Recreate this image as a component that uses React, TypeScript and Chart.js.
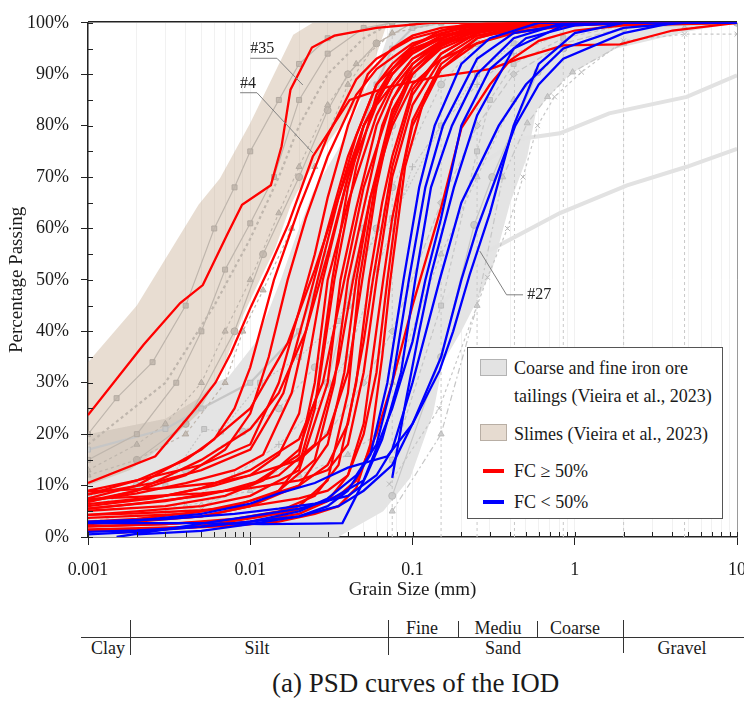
import React, { useEffect, useRef } from 'react';
import { Chart, registerables } from 'chart.js';

Chart.register(...registerables);

const FONT = '"Liberation Serif", "Times New Roman", serif';

type Pt = [number, number];

// ---- axes ----
const xMajorTicks = [0.001, 0.01, 0.1, 1, 10];
const xTickLabels = ['0.001', '0.01', '0.1', '1', '10'];
const xDecades = [0.001, 0.01, 0.1, 1];
const xMultipliers = [1, 2, 3, 4, 5, 6, 7, 8, 9];
const xTickValues = xDecades
  .flatMap((d) => xMultipliers.map((m) => +(d * m).toPrecision(3)))
  .concat([10]);
const yTickValues = [0, 5, 10, 15, 20, 25, 30, 35, 40, 45, 50, 55, 60, 65, 70, 75, 80, 85, 90, 95, 100];
const sieveSizes = [0.075, 0.15, 0.25, 0.425, 0.85, 2, 4.75];

// ---- shaded envelopes (Vieira et al., 2023) ----
const tailingsBand: Pt[] = [
  [0.001, 0], [0.001, 20], [0.003, 23], [0.0048, 27], [0.006, 30], [0.0073, 31], [0.0107, 37.7],
  [0.0128, 43.5], [0.0154, 50], [0.0189, 58], [0.0243, 67], [0.0357, 76], [0.049, 85.6],
  [0.063, 93], [0.075, 100], [10, 100], [5, 98.3], [1.8, 95], [0.93, 90], [0.58, 83], [0.51, 74],
  [0.4, 65], [0.31, 52], [0.25, 46], [0.2, 40], [0.154, 34], [0.134, 24], [0.097, 11.5],
  [0.066, 5], [0.041, 1.3], [0.035, 0], [0.001, 0],
];
const slimesBand: Pt[] = [
  [0.001, 10], [0.001, 34], [0.002, 45], [0.0048, 64.6], [0.0065, 69.7], [0.01, 80.5],
  [0.0184, 97.7], [0.0243, 100], [0.07, 100], [0.049, 85.6], [0.027, 74.7], [0.0194, 67],
  [0.0178, 64.6], [0.0142, 56], [0.0117, 50.6], [0.009, 43], [0.0072, 35], [0.006, 30],
  [0.0048, 24], [0.003, 18], [0.0018, 13], [0.001, 10],
];

// ---- background reference curves ----
const tailingsCurves: Pt[][] = [
  [[0.072, 10.3], [0.146, 25], [0.29, 50.5], [0.385, 60], [0.48, 70], [0.59, 80], [0.75, 85.6], [1.1, 90.4], [2, 96.5], [4.75, 97.8], [10, 97.8]],
  [[0.075, 5], [0.15, 20], [0.25, 45], [0.36, 70], [0.51, 80.5], [0.68, 85.6], [0.97, 90.4], [2, 96], [4.75, 99], [10, 100]],
  [[0.075, 8], [0.15, 35], [0.24, 60.7], [0.31, 70], [0.59, 90.4], [0.85, 95], [2, 99], [10, 100]],
  [[0.075, 15], [0.15, 45], [0.25, 75], [0.3, 85], [0.42, 92], [0.85, 97], [2, 99.5], [10, 100]],
  [[0.001, 17], [0.003, 21], [0.005, 25], [0.01, 30], [0.02, 40], [0.03, 55], [0.04, 70], [0.06, 88], [0.075, 95], [0.1, 99], [0.15, 100]],
  [[0.001, 8], [0.002, 10], [0.004, 13], [0.009, 20.5], [0.015, 25], [0.025, 33], [0.04, 45], [0.06, 60], [0.075, 68], [0.15, 88], [0.25, 96], [0.42, 99], [0.85, 100]],
  [[0.001, 6], [0.003, 10], [0.0052, 21], [0.0066, 20.5], [0.0115, 30], [0.02, 35], [0.035, 42], [0.05, 55], [0.075, 62], [0.15, 80], [0.25, 90], [0.42, 96], [1, 100]],
  [[0.002, 3], [0.005, 6], [0.01, 10], [0.02, 15], [0.03, 20], [0.05, 30], [0.075, 40], [0.15, 65], [0.25, 80], [0.42, 90], [0.85, 96], [2, 99], [4.75, 100]],
  [[0.003, 5], [0.008, 12], [0.015, 18], [0.025, 25], [0.04, 35], [0.06, 52], [0.075, 60], [0.1, 72], [0.15, 80], [0.25, 88], [0.42, 94], [0.85, 98], [2, 100]],
  [[0.001, 3], [0.004, 6], [0.01, 9], [0.02, 12], [0.04, 16], [0.06, 20], [0.075, 30], [0.15, 55], [0.25, 70], [0.42, 85], [0.85, 95], [2, 99], [4.75, 100]],
  [[0.03, 30], [0.05, 60], [0.075, 80], [0.1, 90], [0.15, 96], [0.25, 99], [0.42, 100]],
];
const tailingsMarkers = ['crossRot', 'triangle', 'circle', 'rect', 'rect', 'circle', 'rect', 'rectRot', 'cross', 'triangle', 'circle'];
const slimesCurves: Pt[][] = [
  [[0.001, 20], [0.0015, 27], [0.0025, 34], [0.004, 45], [0.006, 60], [0.008, 68], [0.01, 75], [0.015, 85], [0.02, 92], [0.03, 97], [0.075, 100]],
  [[0.001, 13], [0.002, 18], [0.003, 22], [0.005, 30], [0.007, 40], [0.01, 50], [0.015, 63], [0.02, 72], [0.03, 84], [0.045, 92], [0.075, 98], [0.15, 100]],
  [[0.002, 15], [0.004, 22], [0.008, 40], [0.012, 55], [0.02, 70], [0.03, 83], [0.04, 90], [0.06, 96], [0.1, 100]],
  [[0.001, 18], [0.003, 30], [0.006, 45], [0.01, 58], [0.015, 70], [0.02, 80], [0.03, 90], [0.05, 97], [0.075, 100]],
  [[0.001, 15], [0.002, 20], [0.0035, 30], [0.005, 40], [0.007, 52], [0.01, 61], [0.014, 70], [0.02, 85], [0.03, 94], [0.05, 99], [0.075, 100]],
  [[0.001, 12], [0.002, 15], [0.004, 20], [0.007, 30], [0.009, 40], [0.012, 48], [0.018, 60], [0.025, 72], [0.04, 88], [0.06, 96], [0.1, 100]],
];
const slimesMarkers = ['rect', 'triangle', 'circle', false, 'rect', 'triangle'];
const wideCurves: Pt[][] = [
  [[0.25, 72], [0.46, 77.4], [0.81, 78.5], [1.63, 82.4], [4.9, 85.6], [10, 89.8]],
  [[0.15, 45], [0.27, 55], [0.81, 63], [2.1, 68.4], [4.9, 72], [10, 75.5]],
];

// ---- IOD samples, FC >= 50% ----
const redCurves: Pt[][] = [
  [[0.001, 23.7], [0.0022, 37.4], [0.0037, 45.5], [0.0051, 49], [0.0072, 58.8], [0.0089, 64.6], [0.0134, 68.4], [0.0156, 76], [0.0177, 87], [0.024, 95.2], [0.033, 97.5], [0.06, 99], [0.13, 100], [10, 100]],
  [[0.001, 10.5], [0.0026, 15.7], [0.0046, 25], [0.0061, 30], [0.0076, 35.8], [0.0101, 44.8], [0.0128, 51.7], [0.0171, 60.7], [0.0243, 74], [0.041, 85], [0.07, 87.5], [0.14, 89.5], [0.3, 91], [0.45, 93], [0.85, 95.6], [1.9, 95.8], [4, 98.5], [10, 100]],
  [[0.001, 2], [0.003, 2.5], [0.007, 3.2], [0.015, 4.5], [0.025, 6], [0.035, 8], [0.045, 11], [0.06, 20], [0.075, 30], [0.1, 45], [0.15, 64], [0.2, 79.5], [0.3, 88], [0.4, 92.7], [0.6, 96.5], [1, 98.5], [2, 99.5], [10, 100]],
  [[0.001, 8.3], [0.002, 11], [0.004, 15], [0.006, 19], [0.008, 25], [0.01, 33], [0.014, 50], [0.02, 64], [0.03, 78], [0.045, 89], [0.06, 93], [0.1, 97], [0.2, 99.5], [0.4, 100], [10, 100]],
  [[0.001, 7], [0.002, 9], [0.004, 12], [0.007, 17], [0.01, 24], [0.013, 35], [0.017, 50], [0.022, 62], [0.03, 74], [0.045, 86], [0.06, 91], [0.1, 96], [0.2, 99], [0.5, 100], [10, 100]],
  [[0.001, 9], [0.002, 11], [0.005, 14], [0.01, 18], [0.015, 30], [0.02, 44], [0.025, 55], [0.03, 66], [0.04, 80], [0.053, 90], [0.075, 95], [0.1, 97.5], [0.15, 99], [0.3, 100], [10, 100]],
  [[0.001, 8.3], [0.0025, 10.5], [0.005, 13], [0.01, 17], [0.016, 28], [0.022, 44], [0.03, 60], [0.04, 74], [0.06, 88], [0.075, 92], [0.1, 95.5], [0.15, 98], [0.25, 99.5], [0.42, 100], [10, 100]],
  [[0.001, 7], [0.002, 8.5], [0.004, 10.5], [0.008, 13], [0.012, 16], [0.018, 28], [0.026, 50], [0.035, 66], [0.045, 78], [0.06, 88], [0.075, 91], [0.1, 94.5], [0.15, 97.5], [0.25, 99], [0.5, 100], [10, 100]],
  [[0.001, 6.4], [0.003, 8], [0.006, 10], [0.01, 12], [0.015, 16], [0.02, 24], [0.028, 50], [0.04, 70], [0.05, 80], [0.075, 90], [0.1, 94], [0.15, 97], [0.25, 99], [0.42, 100], [10, 100]],
  [[0.001, 5.5], [0.002, 6.5], [0.005, 8], [0.01, 10], [0.02, 16], [0.025, 30], [0.03, 50], [0.04, 65], [0.06, 82], [0.075, 88], [0.1, 93], [0.15, 96.5], [0.25, 98.5], [0.6, 100], [10, 100]],
  [[0.001, 5.1], [0.003, 6], [0.007, 8], [0.012, 11], [0.02, 17], [0.026, 28], [0.033, 50], [0.045, 72], [0.06, 86], [0.075, 91], [0.1, 95], [0.2, 98.5], [0.42, 100], [10, 100]],
  [[0.001, 4.3], [0.002, 5], [0.005, 6], [0.01, 8], [0.02, 13], [0.03, 30], [0.036, 50], [0.045, 64], [0.06, 80], [0.075, 87], [0.1, 92], [0.15, 96], [0.3, 99], [0.85, 100], [10, 100]],
  [[0.001, 3.7], [0.004, 4.5], [0.008, 6], [0.015, 9], [0.025, 15], [0.033, 30], [0.04, 50], [0.05, 64], [0.065, 80], [0.075, 85], [0.1, 91], [0.15, 95.5], [0.25, 98.5], [0.5, 100], [10, 100]],
  [[0.001, 2.9], [0.002, 3.2], [0.005, 4], [0.01, 6], [0.02, 10], [0.03, 18], [0.038, 32], [0.045, 50], [0.055, 66], [0.075, 83], [0.1, 90], [0.15, 95], [0.3, 99], [0.6, 100], [10, 100]],
  [[0.001, 8.9], [0.003, 9.5], [0.006, 10.5], [0.01, 12], [0.02, 15], [0.03, 20], [0.04, 32], [0.049, 50], [0.06, 68], [0.075, 82], [0.1, 91], [0.15, 96], [0.25, 97.5], [0.5, 98.5], [1, 99.5], [2, 100], [10, 100]],
  [[0.001, 2.1], [0.003, 2.5], [0.008, 3.5], [0.015, 5], [0.025, 8], [0.035, 14], [0.045, 30], [0.054, 50], [0.065, 65], [0.075, 74], [0.1, 87], [0.15, 94], [0.25, 98], [0.5, 100], [10, 100]],
  [[0.001, 7.4], [0.002, 7.8], [0.005, 8.5], [0.01, 9.5], [0.02, 11], [0.03, 13], [0.04, 18], [0.05, 32], [0.06, 50], [0.075, 70], [0.1, 84], [0.15, 93], [0.25, 97.5], [0.6, 100], [10, 100]],
  [[0.001, 1.5], [0.005, 2], [0.01, 3], [0.02, 4.5], [0.03, 7], [0.04, 12], [0.05, 22], [0.066, 50], [0.075, 62], [0.1, 81], [0.15, 92], [0.25, 97], [0.5, 99.5], [1, 100], [10, 100]],
  [[0.001, 4.3], [0.002, 4.6], [0.005, 5.2], [0.01, 6], [0.02, 7.5], [0.03, 9], [0.04, 12], [0.05, 20], [0.06, 32], [0.07, 50], [0.085, 70], [0.1, 80], [0.15, 91], [0.25, 97], [0.5, 99.5], [10, 100]],
  [[0.001, 1.3], [0.003, 1.6], [0.008, 2.2], [0.015, 3], [0.025, 4.5], [0.035, 6], [0.045, 9.5], [0.055, 18], [0.065, 35], [0.073, 50], [0.09, 72], [0.12, 86], [0.15, 91], [0.25, 96], [0.5, 99], [1, 100], [10, 100]],
  [[0.001, 2.5], [0.002, 3], [0.005, 4], [0.01, 6], [0.015, 9], [0.02, 14], [0.025, 25], [0.032, 50], [0.04, 68], [0.05, 80], [0.075, 91], [0.1, 95.5], [0.15, 98.5], [0.3, 100], [10, 100]],
  [[0.001, 6], [0.0025, 7.5], [0.005, 9.5], [0.01, 13], [0.02, 19], [0.028, 30], [0.038, 50], [0.05, 68], [0.075, 85], [0.1, 92], [0.15, 96.5], [0.3, 99.5], [0.6, 100], [10, 100]],
  [[0.001, 5.5], [0.003, 7], [0.007, 9], [0.015, 12], [0.025, 18], [0.035, 34], [0.043, 50], [0.055, 66], [0.075, 80], [0.1, 88], [0.15, 93], [0.25, 96], [0.42, 98], [0.85, 99.5], [2, 100], [10, 100]],
  [[0.001, 3], [0.002, 3.5], [0.005, 5], [0.01, 7], [0.02, 10], [0.03, 14], [0.04, 22], [0.05, 38], [0.057, 50], [0.075, 72], [0.1, 86], [0.15, 94], [0.25, 98], [0.6, 100], [10, 100]],
  [[0.0015, 0.8], [0.003, 1.5], [0.006, 2.5], [0.012, 4], [0.02, 6], [0.03, 11], [0.04, 28], [0.047, 50], [0.06, 70], [0.075, 81], [0.1, 90], [0.15, 95.5], [0.25, 98.5], [0.5, 100], [10, 100]],
  [[0.001, 7.5], [0.002, 10], [0.005, 17], [0.01, 25], [0.017, 37.7], [0.025, 52], [0.035, 66], [0.05, 80], [0.075, 90], [0.1, 94.5], [0.2, 98.5], [0.4, 100], [10, 100]],
  [[0.001, 6.8], [0.002, 9], [0.005, 15], [0.01, 21], [0.015, 28], [0.022, 40], [0.03, 55], [0.04, 70], [0.06, 84], [0.1, 93], [0.2, 98], [0.5, 100], [10, 100]],
];

// ---- IOD samples, FC < 50% ----
const blueCurves: Pt[][] = [
  [[0.001, 2.9], [0.002, 3.2], [0.005, 4.5], [0.01, 6.5], [0.015, 8.5], [0.025, 10.5], [0.04, 13.5], [0.07, 15.7], [0.1, 22], [0.147, 32.4], [0.178, 40], [0.225, 51], [0.3, 63], [0.42, 80], [0.6, 92], [1, 98], [2, 100], [10, 100]],
  [[0.002, 0.5], [0.005, 1.2], [0.01, 2.5], [0.02, 4], [0.03, 6], [0.04, 9], [0.055, 16], [0.07, 30], [0.088, 50], [0.11, 68], [0.137, 80], [0.2, 92], [0.3, 97], [0.6, 100], [10, 100]],
  [[0.001, 1], [0.002, 1.3], [0.005, 2], [0.01, 3], [0.02, 5], [0.03, 7.5], [0.045, 12], [0.06, 18], [0.075, 30], [0.095, 50], [0.12, 68], [0.154, 80], [0.25, 93], [0.42, 98], [1, 100], [10, 100]],
  [[0.001, 2.7], [0.005, 2.7], [0.012, 2.5], [0.025, 2.6], [0.037, 2.7], [0.045, 8], [0.052, 12], [0.065, 19], [0.085, 32], [0.104, 50], [0.13, 68], [0.175, 80], [0.25, 90], [0.42, 97], [0.85, 100], [10, 100]],
  [[0.0015, 0], [0.003, 1.5], [0.006, 3], [0.01, 4], [0.02, 5.5], [0.03, 7], [0.05, 11], [0.075, 25], [0.1, 38], [0.12, 50], [0.15, 62], [0.2, 80], [0.3, 91], [0.5, 97], [1, 99.5], [2, 100], [10, 100]],
  [[0.075, 11.5], [0.09, 25.7], [0.11, 40], [0.13, 51], [0.18, 68], [0.25, 82], [0.42, 95], [0.85, 99.5], [2, 100], [10, 100]],
  [[0.001, 3], [0.003, 3.5], [0.008, 4.5], [0.015, 5.5], [0.025, 6.5], [0.04, 8], [0.06, 12], [0.075, 17], [0.1, 30], [0.147, 50], [0.2, 65], [0.34, 80], [0.5, 88], [0.85, 95], [2, 99], [4.75, 100], [10, 100]],
  [[0.001, 0.5], [0.002, 1], [0.005, 2], [0.01, 3], [0.02, 4], [0.035, 6], [0.05, 9], [0.075, 14], [0.1, 22], [0.15, 35], [0.2, 50], [0.25, 60], [0.43, 80], [0.6, 88], [0.85, 93], [2, 98], [4, 100], [10, 100]],
];

// ---- callouts ----
const callouts: { text: string; at: Pt; path: Pt[]; base: CanvasTextBaseline }[] = [
  { text: '#35', at: [0.01, 93.1], path: [[0.01, 93.1], [0.0146, 93.1], [0.0211, 87.9]], base: 'bottom' },
  { text: '#4', at: [0.00866, 86.4], path: [[0.00866, 86.4], [0.011, 86.4], [0.0243, 74.7]], base: 'bottom' },
  { text: '#27', at: [0.51, 47.1], path: [[0.48, 47.1], [0.38, 47.1], [0.26, 55.6]], base: 'middle' },
];

const toXY = (pts: Pt[]) => pts.map(([x, y]) => ({ x, y }));
const isMajorX = (v: number) => xMajorTicks.some((m) => Math.abs(v - m) / m < 1e-6);

const framePlugin = {
  id: 'frame',
  beforeDatasetsDraw(chart: any) {
    const { ctx, chartArea: a } = chart;
    ctx.save();
    ctx.strokeStyle = '#222';
    ctx.lineWidth = 1.5;
    ctx.beginPath();
    ctx.moveTo(a.left, a.top - 1);
    ctx.lineTo(a.right, a.top - 1);
    ctx.stroke();
    ctx.strokeStyle = '#9a9a9a';
    ctx.lineWidth = 1;
    ctx.beginPath();
    ctx.moveTo(a.right + 0.5, a.top);
    ctx.lineTo(a.right + 0.5, a.bottom);
    ctx.stroke();
    ctx.restore();
  },
  afterDatasetsDraw(chart: any) {
    const { ctx, chartArea: a, scales } = chart;
    const sx = scales.x;
    const sy = scales.y;
    ctx.save();
    ctx.strokeStyle = '#222';
    ctx.lineWidth = 1;
    ctx.beginPath();
    for (const v of xTickValues) {
      const px = Math.round(sx.getPixelForValue(v)) + 0.5;
      ctx.moveTo(px, a.bottom);
      ctx.lineTo(px, a.bottom - 5);
    }
    for (const v of yTickValues) {
      const py = Math.round(sy.getPixelForValue(v)) + 0.5;
      ctx.moveTo(a.left, py);
      ctx.lineTo(a.left + 5, py);
    }
    ctx.stroke();
    // callouts
    ctx.strokeStyle = '#808080';
    ctx.lineWidth = 1;
    ctx.fillStyle = '#222';
    ctx.font = `16px ${FONT}`;
    for (const c of callouts) {
      ctx.beginPath();
      c.path.forEach(([x, y], i) => {
        const px = sx.getPixelForValue(x);
        const py = sy.getPixelForValue(y);
        if (i === 0) ctx.moveTo(px, py);
        else ctx.lineTo(px, py);
      });
      ctx.stroke();
      ctx.textAlign = 'left';
      ctx.textBaseline = c.base;
      ctx.fillText(c.text, sx.getPixelForValue(c.at[0]), sy.getPixelForValue(c.at[1]) - (c.base === 'bottom' ? 1 : 0));
    }
    ctx.restore();
  },
};

function buildDatasets() {
  const ds: any[] = [];
  ds.push({
    data: toXY(tailingsBand), borderWidth: 0, pointRadius: 0, fill: 'shape',
    backgroundColor: '#e4e4e4', order: 30,
  });
  ds.push({
    data: toXY(slimesBand), borderWidth: 0, pointRadius: 0, fill: 'shape',
    backgroundColor: 'rgba(190,160,130,0.36)', order: 29,
  });
  sieveSizes.forEach((s) => {
    ds.push({
      data: toXY([[s, 0], [s, 98]]), borderColor: '#c8c8c8', borderWidth: 1,
      borderDash: [3, 3], pointRadius: 0, fill: false, order: 25,
    });
  });
  wideCurves.forEach((c) => {
    ds.push({ data: toXY(c), borderColor: '#e2e2e2', borderWidth: 4, pointRadius: 0, fill: false, order: 20 });
  });
  const dashes = [[3, 3], [6, 3, 2, 3], [], [4, 3], [], [3, 3], [2, 2], [6, 3], [4, 2, 1, 2], [3, 3], []];
  tailingsCurves.forEach((c, i) => {
    ds.push({
      data: toXY(c), borderColor: '#c6c6c6', borderWidth: i === 4 ? 2.2 : 1.2,
      borderDash: dashes[i % dashes.length], pointStyle: tailingsMarkers[i], pointRadius: 3.5,
      pointBackgroundColor: 'rgba(200,200,200,0.85)', pointBorderColor: '#bababa',
      pointBorderWidth: 1, fill: false, order: 15,
    });
  });
  slimesCurves.forEach((c, i) => {
    ds.push({
      data: toXY(c), borderColor: '#bfb6ad', borderWidth: i === 3 ? 2.2 : 1.2,
      borderDash: i % 2 === 1 ? [3, 3] : [], pointStyle: slimesMarkers[i] || 'circle',
      pointRadius: slimesMarkers[i] ? 3.5 : 0,
      pointBackgroundColor: 'rgba(190,180,170,0.8)', pointBorderColor: '#b3aaa1',
      pointBorderWidth: 1, fill: false, order: 14,
    });
  });
  redCurves.forEach((c) => {
    ds.push({ data: toXY(c), borderColor: '#ff0000', borderWidth: 2.3, pointRadius: 0, fill: false, order: 2 });
  });
  blueCurves.forEach((c) => {
    ds.push({ data: toXY(c), borderColor: '#0000ff', borderWidth: 2.3, pointRadius: 0, fill: false, order: 1 });
  });
  return ds;
}

const lbl = (text: string, cx: number, cy: number, size = 18): React.ReactElement => (
  <div
    key={text}
    style={{
      position: 'absolute', left: cx - 100, width: 200, top: cy - 12, height: 24,
      lineHeight: '24px', textAlign: 'center', fontSize: size, whiteSpace: 'nowrap',
    }}
  >
    {text}
  </div>
);

export default function App() {
  const ref = useRef<HTMLCanvasElement>(null);

  useEffect(() => {
    if (!ref.current) return;
    Chart.defaults.font.family = FONT;
    Chart.defaults.color = '#1a1a1a';
    const chart = new Chart(ref.current, {
      type: 'line',
      data: { datasets: buildDatasets() },
      options: {
        animation: false,
        responsive: false,
        devicePixelRatio: 1,
        events: [],
        layout: { padding: { top: 15, right: 23, left: 0, bottom: 0 } },
        elements: { line: { tension: 0 } },
        plugins: { legend: { display: false }, tooltip: { enabled: false } },
        scales: {
          x: {
            type: 'logarithmic',
            min: 0.001,
            max: 10,
            afterBuildTicks: (scale: any) => {
              scale.ticks = xTickValues.map((v) => ({ value: v, major: isMajorX(v) }));
            },
            afterFit: (scale: any) => { scale.height = 73; },
            ticks: {
              autoSkip: false,
              maxRotation: 0,
              minRotation: 0,
              padding: 14,
              font: { size: 18, family: FONT },
              color: '#1a1a1a',
              callback: (v: any) => {
                const i = xMajorTicks.findIndex((m) => Math.abs(Number(v) - m) / m < 1e-6);
                return i >= 0 ? xTickLabels[i] : '';
              },
            },
            grid: {
              drawOnChartArea: true,
              color: '#f1f1f1',
              lineWidth: 1,
              tickLength: 8,
              tickColor: (ctx: any) => (ctx.tick && isMajorX(ctx.tick.value) ? '#222' : 'rgba(0,0,0,0)'),
            },
            border: { display: true, color: '#222', width: 1.5 },
            title: {
              display: true,
              text: 'Grain Size (mm)',
              font: { size: 19, family: FONT },
              color: '#1a1a1a',
              padding: { top: 0, bottom: 9 },
            },
          },
          y: {
            type: 'linear',
            min: 0,
            max: 100,
            afterFit: (scale: any) => { scale.width = 88; },
            ticks: {
              stepSize: 5,
              padding: 12,
              font: { size: 18, family: FONT },
              color: '#1a1a1a',
              callback: (v: any) => (Number(v) % 10 === 0 ? `${v}%` : ''),
            },
            grid: {
              drawOnChartArea: false,
              tickLength: 7,
              tickColor: (ctx: any) => (ctx.tick && ctx.tick.value % 10 === 0 ? '#222' : 'rgba(0,0,0,0)'),
            },
            border: { display: true, color: '#222', width: 1.5 },
            title: {
              display: true,
              text: 'Percentage Passing',
              font: { size: 19, family: FONT },
              color: '#1a1a1a',
              padding: { top: 6, bottom: 0 },
            },
          },
        },
      },
      plugins: [framePlugin],
    } as any);
    return () => chart.destroy();
  }, []);

  const legendText = (text: string, top: number): React.ReactElement => (
    <div key={text} style={{ position: 'absolute', left: 46, top: top - 11, lineHeight: '22px', fontSize: 18, whiteSpace: 'nowrap' }}>
      {text}
    </div>
  );

  return (
    <div
      style={{
        position: 'absolute', left: 0, top: 0, width: 744, height: 703, overflow: 'hidden',
        background: '#fff', fontFamily: FONT, color: '#1a1a1a',
      }}
    >
      <canvas ref={ref} width={760} height={610} style={{ position: 'absolute', left: 0, top: 0, width: 760, height: 610 }} />

      {/* legend */}
      <div style={{ position: 'absolute', left: 467, top: 347, width: 254, height: 170, border: '1px solid #555', background: '#fff' }}>
        <div style={{ position: 'absolute', left: 12, top: 11, width: 25, height: 15, background: '#e3e3e3', border: '1.5px solid #b3b3b3' }} />
        {legendText('Coarse and fine iron ore', 20)}
        {legendText('tailings (Vieira et al., 2023)', 48)}
        <div style={{ position: 'absolute', left: 12, top: 76, width: 25, height: 15, background: '#e6dbd0', border: '1.5px solid #b8aea4' }} />
        {legendText('Slimes (Vieira et al., 2023)', 86)}
        <div style={{ position: 'absolute', left: 15, top: 121, width: 21, height: 4, background: '#ff0000' }} />
        {legendText('FC ≥ 50%', 123)}
        <div style={{ position: 'absolute', left: 15, top: 152, width: 21, height: 4, background: '#0000ff' }} />
        {legendText('FC < 50%', 154)}
      </div>

      {/* soil classification bar */}
      <div style={{ position: 'absolute', left: 81, top: 637, width: 663, height: 1, background: '#333' }} />
      <div style={{ position: 'absolute', left: 130, top: 620, width: 1, height: 35, background: '#333' }} />
      <div style={{ position: 'absolute', left: 388, top: 620, width: 1, height: 35, background: '#333' }} />
      <div style={{ position: 'absolute', left: 458, top: 621, width: 1, height: 16, background: '#333' }} />
      <div style={{ position: 'absolute', left: 537, top: 621, width: 1, height: 16, background: '#333' }} />
      <div style={{ position: 'absolute', left: 623, top: 620, width: 1, height: 33, background: '#333' }} />
      {lbl('Fine', 422, 628)}
      {lbl('Mediu', 498, 628)}
      {lbl('Coarse', 575, 628)}
      {lbl('Clay', 108, 648)}
      {lbl('Silt', 257, 648)}
      {lbl('Sand', 503, 648)}
      {lbl('Gravel', 682, 648)}
      {lbl('(a) PSD curves of the IOD', 372, 683, 27)}
    </div>
  );
}
